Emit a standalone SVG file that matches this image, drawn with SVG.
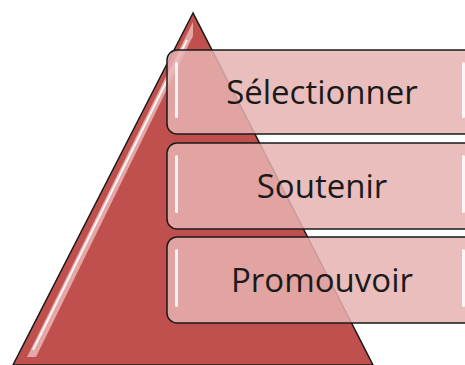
<svg xmlns="http://www.w3.org/2000/svg" width="465" height="365" viewBox="0 0 465 365">
<defs>
<style>
.box{fill:#e6b3b2;fill-opacity:0.85;stroke:#1a1a1a;stroke-width:1.5}
.hl{fill:#ffffff;opacity:0.85}
.lbl{font-family:"Open Sans","Noto Sans",sans-serif;font-size:33px;fill:#1a1a1a;text-anchor:middle}
</style>
</defs>
<g id="pyramid">
<polygon points="193,13 13,365 373,365" fill="#c0504d" stroke="#1a1a1a" stroke-width="1.5"/>
<polygon points="193,22 27,357 36,357 193,36" fill="#f2c4c3" opacity="0.75"/>
<line x1="187" y1="40" x2="33" y2="350" stroke="#ffffff" stroke-width="2" opacity="0.9"/>
</g>
<g id="node-selectionner">
<rect class="box" x="167" y="50" width="310" height="84" rx="10"/>
<rect class="hl" x="175" y="62" width="3" height="56" rx="1.5"/>
<rect class="hl" x="462" y="62" width="3" height="56" rx="1.5"/>
<text class="lbl" x="322" y="104">Sélectionner</text>
</g>
<g id="node-soutenir">
<rect class="box" x="167" y="143" width="310" height="86" rx="10"/>
<rect class="hl" x="175" y="155" width="3" height="58" rx="1.5"/>
<rect class="hl" x="462" y="155" width="3" height="58" rx="1.5"/>
<text class="lbl" x="322" y="198">Soutenir</text>
</g>
<g id="node-promouvoir">
<rect class="box" x="167" y="237" width="310" height="86" rx="10"/>
<rect class="hl" x="175" y="249" width="3" height="58" rx="1.5"/>
<rect class="hl" x="462" y="249" width="3" height="58" rx="1.5"/>
<text class="lbl" x="322" y="292">Promouvoir</text>
</g>
<g id="connectors"/>
</svg>
